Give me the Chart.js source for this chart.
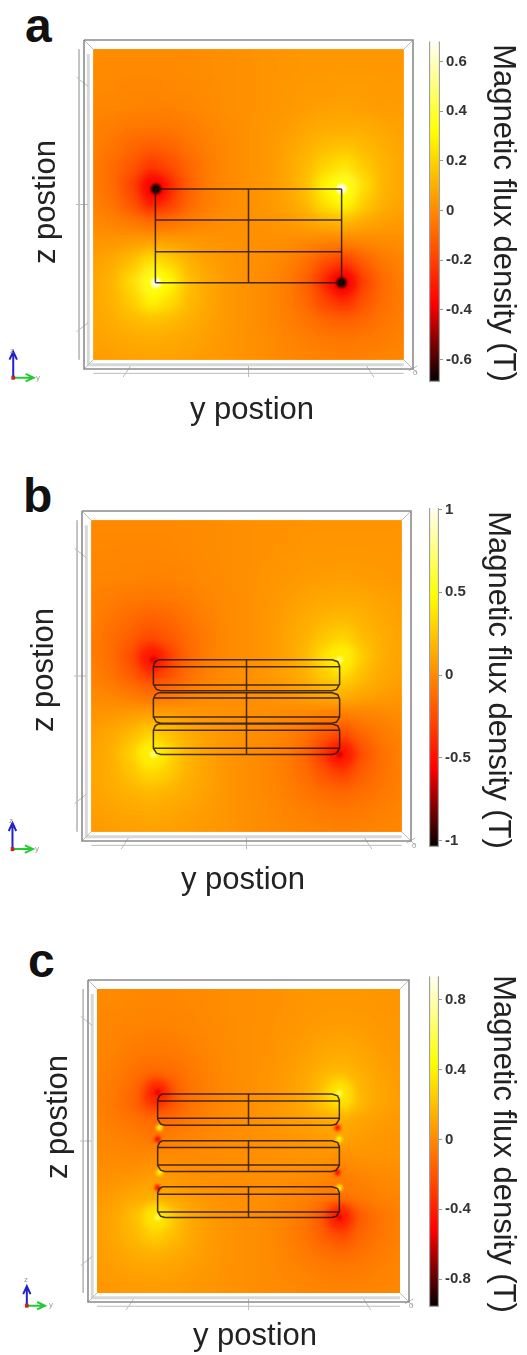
<!DOCTYPE html>
<html>
<head>
<meta charset="utf-8">
<script src="https://cdn.jsdelivr.net/npm/chart.js@4"></script>
<style>
  body { margin: 0; background: #fff; width: 527px; height: 1355px; position: relative; overflow: hidden; }
  canvas { position: absolute; }
  .letter { position: absolute; font: bold 48px/48px "Liberation Sans", sans-serif; color: #111; }
  .tiny { position: absolute; font: 8px/8px "Liberation Sans", sans-serif; color: #999; }
</style>
</head>
<body>
<div class="letter" style="left:25px;top:2px">a</div>
<div class="letter" style="left:23px;top:472px">b</div>
<div class="letter" style="left:28px;top:937px">c</div>
<script>
// grid positions of the field samples
const gridY = [-2.5, -2.19, -1.88, -1.56, -1.25, -0.94, -0.63, -0.31, 0, 0.31, 0.63, 0.94, 1.25, 1.56, 1.88, 2.19, 2.5];
const gridZ = [2.5, 2.19, 1.88, 1.56, 1.25, 0.94, 0.63, 0.31, 0, -0.31, -0.63, -0.94, -1.25, -1.56, -1.88, -2.19, -2.5];

// field, in mT, one row per gridZ
const fieldA = [
  [5, 5, 5, 5, 5, 5, 10, 13, 20, 27, 30, 35, 35, 35, 35, 35, 35],
  [0, 0, 0, 0, 0, 5, 10, 13, 20, 27, 30, 35, 40, 40, 40, 40, 40],
  [-3, -3, -10, -10, -3, -3, 5, 13, 20, 27, 35, 43, 43, 50, 50, 43, 43],
  [-10, -10, -15, -20, -20, -10, 0, 13, 20, 27, 40, 50, 60, 60, 55, 50, 50],
  [-20, -35, -50, -50, -50, -35, -10, 5, 20, 35, 50, 75, 90, 90, 90, 75, 60],
  [-25, -55, -90, -115, -100, -60, -25, 0, 20, 40, 65, 100, 135, 150, 125, 95, 65],
  [-35, -80, -135, -220, -165, -90, -40, 0, 20, 40, 80, 125, 200, 250, 170, 115, 75],
  [-35, -80, -190, -390, -260, -110, -35, 0, 20, 40, 75, 145, 300, 430, 230, 115, 75],
  [-25, -60, -145, -290, -210, -90, -30, 5, 20, 35, 70, 125, 250, 320, 180, 100, 65],
  [0, -15, -40, -75, -55, -25, 0, 13, 20, 27, 40, 65, 95, 115, 80, 55, 40],
  [30, 40, 55, 70, 65, 47, 32, 25, 20, 15, 8, -7, -25, -30, -15, 0, 10],
  [55, 90, 150, 260, 200, 110, 62, 32, 20, 8, -22, -70, -165, -225, -115, -50, -15],
  [70, 115, 230, 430, 310, 145, 78, 40, 20, 0, -38, -110, -270, -390, -195, -80, -30],
  [75, 110, 180, 300, 230, 125, 77, 40, 20, 0, -37, -90, -195, -260, -145, -75, -35],
  [70, 92, 125, 145, 130, 100, 65, 40, 20, 0, -25, -60, -95, -110, -90, -52, -30],
  [60, 75, 85, 95, 85, 70, 55, 32, 20, 8, -15, -30, -45, -55, -45, -35, -20],
  [50, 55, 62, 67, 62, 55, 45, 32, 20, 8, -5, -15, -22, -27, -22, -15, -10]
];
const fieldB = [
  [0, 0, 0, 0, 0, 5, 10, 15, 20, 25, 30, 35, 40, 40, 40, 40, 40],
  [-5, -5, -5, -5, -5, 0, 10, 15, 20, 30, 35, 45, 45, 45, 45, 45, 45],
  [-10, -10, -15, -15, -10, -5, 5, 15, 20, 35, 45, 55, 55, 60, 60, 55, 50],
  [-15, -20, -25, -30, -30, -15, 0, 15, 20, 40, 55, 70, 80, 85, 75, 65, 55],
  [-30, -50, -70, -75, -70, -50, -15, 5, 20, 45, 70, 100, 120, 125, 120, 100, 80],
  [-35, -80, -120, -160, -140, -85, -35, 0, 20, 50, 85, 130, 170, 190, 160, 125, 90],
  [-50, -110, -170, -260, -200, -120, -60, 0, 20, 50, 105, 155, 240, 300, 200, 145, 105],
  [-50, -110, -240, -480, -320, -145, -50, 0, 20, 50, 100, 180, 360, 500, 270, 150, 105],
  [-35, -85, -180, -300, -240, -115, -40, 5, 20, 45, 95, 150, 270, 340, 210, 125, 90],
  [0, -20, -55, -110, -80, -35, 0, 15, 20, 35, 55, 90, 130, 160, 115, 80, 55],
  [40, 55, 80, 100, 90, 65, 45, 30, 20, 15, 0, -15, -40, -50, -30, -5, 10],
  [80, 125, 190, 300, 230, 140, 85, 40, 20, 5, -30, -90, -190, -260, -140, -70, -25],
  [95, 150, 280, 500, 340, 185, 105, 50, 20, -5, -50, -140, -330, -480, -240, -110, -40],
  [105, 145, 225, 340, 270, 160, 105, 50, 20, -5, -50, -115, -230, -310, -175, -100, -45],
  [95, 130, 165, 190, 170, 130, 90, 50, 20, -5, -35, -80, -120, -140, -115, -70, -40],
  [80, 100, 115, 130, 115, 95, 75, 45, 20, 5, -20, -40, -60, -75, -60, -45, -25],
  [65, 75, 85, 90, 85, 75, 60, 45, 20, 5, -5, -20, -30, -35, -30, -20, -15]
];
const fieldC = [
  [0, 0, -5, -5, -5, 0, 5, 15, 20, 25, 35, 40, 45, 45, 45, 40, 40],
  [-5, -5, -10, -15, -15, -5, 5, 15, 20, 25, 35, 45, 55, 55, 55, 45, 45],
  [-10, -15, -25, -30, -25, -15, 0, 12, 20, 28, 40, 55, 70, 75, 65, 55, 50],
  [-15, -25, -50, -60, -55, -30, -10, 8, 20, 32, 50, 70, 100, 110, 95, 65, 55],
  [-20, -40, -80, -100, -90, -55, -20, 5, 20, 35, 60, 90, 135, 150, 120, 85, 60],
  [-30, -60, -120, -200, -160, -80, -30, 0, 20, 40, 70, 115, 200, 250, 155, 100, 70],
  [-35, -70, -145, -310, -210, -95, -35, 0, 20, 40, 75, 125, 240, 340, 170, 105, 75],
  [-25, -50, -85, -110, -95, -55, -20, 5, 20, 35, 60, 80, 110, 120, 95, 70, 55],
  [-10, -20, -35, -70, -30, -15, 0, 12, 20, 28, 40, 50, 60, 95, 65, 50, 40],
  [5, 0, -5, 20, 10, 5, 10, 15, 20, 25, 30, 35, 30, 5, 30, 35, 35],
  [25, 35, 50, 80, 55, 35, 25, 20, 20, 20, 15, 5, -15, -50, -25, -5, 10],
  [50, 80, 120, 135, 105, 70, 40, 25, 20, 15, -5, -30, -65, -80, -55, -30, -15],
  [70, 110, 200, 360, 240, 120, 65, 35, 20, 5, -25, -75, -190, -340, -170, -85, -35],
  [70, 110, 175, 270, 210, 115, 70, 35, 20, 5, -30, -80, -170, -240, -130, -75, -35],
  [65, 90, 125, 145, 125, 95, 60, 35, 20, 5, -20, -55, -90, -110, -85, -50, -25],
  [55, 70, 85, 95, 85, 65, 50, 30, 20, 10, -10, -25, -45, -55, -45, -30, -15],
  [45, 55, 60, 65, 60, 50, 40, 30, 20, 10, 0, -10, -20, -25, -20, -15, -5]
];

// sharp peaks at the coil corners: [y, z, tesla]
const haloA = [[-1.49, 0.25, -0.36], [1.5, 0.25, 0.31], [-1.49, -1.26, 0.31], [1.5, -1.26, -0.36]];
const coreA = [[-1.49, 0.25, -0.69], [1.5, 0.25, 0.69], [-1.49, -1.26, 0.69], [1.5, -1.26, -0.69]];
const haloB = [[-1.5, 0.26, -0.46], [1.5, 0.26, 0.4], [-1.5, -1.26, 0.4], [1.5, -1.26, -0.46]];
const coreB = [[-1.5, 0.26, -0.62], [1.5, 0.26, 0.72], [-1.5, -1.26, 0.72], [1.5, -1.26, -0.62]];
const haloC = [[-1.5, 0.8, -0.4], [1.5, 0.8, 0.34], [-1.5, -1.26, 0.34], [1.5, -1.26, -0.4]];
const coreC = [[-1.5, 0.8, -0.55], [1.5, 0.78, 0.6], [-1.5, -1.26, 0.6], [1.5, -1.26, -0.55],
  [-1.47, 0.22, 0.5], [1.47, 0.22, -0.5], [-1.5, 0.03, -0.5], [1.5, 0.03, 0.45],
  [-1.47, -0.52, 0.45], [1.47, -0.52, -0.5], [-1.5, -0.77, -0.5], [1.5, -0.77, 0.45]];

// coil layers: [top, inner top, inner bottom, bottom]
const layersB = [[0.26, 0.15, -0.145, -0.235], [-0.27, -0.355, -0.66, -0.76], [-0.77, -0.87, -1.16, -1.26]];
const layersC = [[0.775, 0.66, 0.375, 0.26], [0.005, -0.105, -0.396, -0.5], [-0.754, -0.875, -1.167, -1.26]];
const wiresA = [
  [[-1.5, 0.25], [1.5, 0.25]], [[-1.5, -0.25], [1.5, -0.25]], [[-1.5, -0.76], [1.5, -0.76]],
  [[-1.5, -1.26], [1.5, -1.26]], [[-1.5, 0.25], [-1.5, -1.26]], [[0, 0.25], [0, -1.26]], [[1.5, 0.25], [1.5, -1.26]]
];

// colour bars
const rangeA = 0.69, rangeB = 1.04, rangeC = 0.96;
const ticksA = [0.6, 0.4, 0.2, 0, -0.2, -0.4, -0.6];
const ticksB = [1, 0.5, 0, -0.5, -1];
const ticksC = [0.8, 0.4, 0, -0.4, -0.8];

// box around the field
const frameDark = [[[-2.65, 2.65], [2.65, 2.65], [2.65, -2.65], [-2.65, -2.65], [-2.65, 2.65]]];
const frameLight = [
  [[-2.65, 2.65], [-2.5, 2.5]], [[2.65, 2.65], [2.5, 2.5]], [[-2.65, -2.65], [-2.5, -2.5]], [[2.5, -2.5], [2.72, -2.72]],
  [[2.58, -2.68], [2.72, -2.6]],
  [[-2.73, 2.5], [-2.73, -2.5]], [[-2.5, -2.72], [2.5, -2.72]],
  [[-2.77, 2.05], [-2.58, 1.9]], [[-2.78, 0], [-2.58, 0]], [[-2.77, -2.05], [-2.58, -1.9]],
  [[-2.02, -2.78], [-1.9, -2.6]], [[0, -2.78], [0, -2.6]], [[2.02, -2.78], [1.9, -2.6]]
];
const frameWide = [[[-2.58, 2.42], [-2.58, -2.58], [2.5, -2.58]]];

const colorStops = [[0, "#000000"], [0.23, "#ff0000"], [0.73, "#ffff00"], [1, "#ffffff"]];

const panels = [
  { field: fieldA, halo: haloA, core: coreA, wires: wiresA, range: rangeA, ticks: ticksA, coreSize: 5,
    top: 0, height: 440, left: 84, right: 114, up: 40, down: 71,
    zPad: 28, yPad: 11, yShift: 3.5, zShift: -2.5,
    triad: [-3.79, -2.79], triadTop: -2.37, triadEnd: -3.46,
    bar: { up: 39, down: 58, width: 87, pad: 6, shift: 2.5 } },
  { field: fieldB, halo: haloB, core: coreB, wires: outline(layersB), range: rangeB, ticks: ticksB, coreSize: 3.5,
    top: 470, height: 440, left: 82, right: 116, up: 41, down: 69,
    zPad: 26, yPad: 11, yShift: -3.5, zShift: -6,
    triad: [-3.77, -2.78], triadTop: -2.36, triadEnd: -3.44,
    bar: { up: 33, down: 63, width: 88, pad: 11, shift: 5 } },
  { field: fieldC, halo: haloC, core: coreC, wires: outline(layersC), range: rangeC, ticks: ticksC, coreSize: 3,
    top: 930, height: 425, left: 88, right: 118, up: 50, down: 53,
    zPad: 40, yPad: 0, yShift: 6.5, zShift: -24,
    triad: [-3.66, -2.71], triadTop: -2.39, triadEnd: -3.36,
    bar: { up: 42, down: 48, width: 88, pad: 6, shift: 4.5 } }
];

// rounded coil blocks from the layer heights
function outline(layers) {
  const wires = [];
  layers.forEach(([t, ti, bi, b]) => {
    wires.push([[-1.42, t], [1.38, t], [1.47, t - 0.03], [1.5, t - 0.1], [1.5, b + 0.1], [1.45, b + 0.02], [1.38, b],
      [-1.38, b], [-1.45, b + 0.02], [-1.5, b + 0.1], [-1.5, t - 0.1], [-1.47, t - 0.03], [-1.42, t]]);
    wires.push([[-1.5, ti], [1.5, ti]]);
    wires.push([[-1.5, bi], [1.5, bi]]);
    wires.push([[0, t], [0, b]]);
  });
  return wires;
}

function flatten(paths) {
  const pts = [];
  paths.forEach(path => {
    path.forEach(p => pts.push({ x: p[0], y: p[1] }));
    pts.push({ x: null, y: null });
  });
  return pts;
}

function mix(c1, c2, f) {
  const a = parseInt(c1.slice(1), 16), b = parseInt(c2.slice(1), 16);
  const ch = s => Math.round(((a >> s) & 255) * (1 - f) + ((b >> s) & 255) * f);
  return `rgb(${ch(16)},${ch(8)},${ch(0)})`;
}

function heatColor(v, range) {
  const t = Math.max(0, Math.min(1, (v + range) / (2 * range)));
  for (let i = 1; i < colorStops.length; i++) {
    if (t <= colorStops[i][0]) {
      const f = (t - colorStops[i - 1][0]) / (colorStops[i][0] - colorStops[i - 1][0]);
      return mix(colorStops[i - 1][1], colorStops[i][1], f);
    }
  }
  return "#ffffff";
}

// smooths the cells of the field and trims them to the field square
const fieldPlugin = {
  id: "fieldPlugin",
  beforeDatasetDraw(chart, args) {
    const ds = chart.data.datasets[args.index];
    if (ds.blurPx) {
      chart.ctx.save();
      chart.ctx.filter = `blur(${ds.blurPx}px)`;
    }
  },
  afterDatasetDraw(chart, args) {
    const ds = chart.data.datasets[args.index];
    const ctx = chart.ctx;
    if (ds.blurPx) ctx.restore();
    if (!ds.isField) return;
    const sx = chart.scales.x, sy = chart.scales.y;
    const l = sx.getPixelForValue(-2.5), r = sx.getPixelForValue(2.5);
    const t = sy.getPixelForValue(2.5), b = sy.getPixelForValue(-2.5);
    const copy = document.createElement("canvas");
    copy.width = chart.canvas.width;
    copy.height = chart.canvas.height;
    copy.getContext("2d").drawImage(chart.canvas, 0, 0);
    ctx.clearRect(l - 14, t - 14, r - l + 28, b - t + 28);
    ctx.save();
    ctx.beginPath();
    ctx.rect(l, t, r - l, b - t);
    ctx.clip();
    ctx.drawImage(copy, 0, 0);
    ctx.filter = "blur(7px)";
    ctx.drawImage(copy, 0, 0);
    ctx.restore();
  },
  // the axis titles sit a little off centre in the picture
  afterLayout(chart, args, opts) {
    if (opts.xShift) {
      chart.scales.x.left += opts.xShift;
      chart.scales.x.right += opts.xShift;
    }
    if (opts.yShift) {
      chart.scales.y.top += opts.yShift;
      chart.scales.y.bottom += opts.yShift;
    }
  }
};
Chart.register(fieldPlugin);

function spotData(list) {
  return list.map(s => ({ x: s[0], y: s[1] }));
}

function addCanvas(left, top, width, height) {
  const c = document.createElement("canvas");
  c.width = width;
  c.height = height;
  c.style.left = left + "px";
  c.style.top = top + "px";
  c.style.width = width + "px";
  c.style.height = height + "px";
  document.body.appendChild(c);
  return c;
}

function addTiny(text, left, top) {
  const d = document.createElement("div");
  d.className = "tiny";
  d.textContent = text;
  d.style.left = left + "px";
  d.style.top = top + "px";
  document.body.appendChild(d);
}

function lineSet(paths, color, width, order, extra) {
  return Object.assign({
    data: flatten(paths), showLine: true, pointRadius: 0, borderColor: color, borderWidth: width,
    order: order, clip: false, spanGaps: false, tension: 0
  }, extra || {});
}

function drawPanel(p) {
  const cells = [], cellColors = [];
  gridZ.forEach((z, j) => gridY.forEach((y, i) => {
    cells.push({ x: y, y: z });
    cellColors.push(heatColor(p.field[j][i] / 1000, p.range));
  }));
  const [ox, oz] = p.triad;
  const top = p.triadTop, end = p.triadEnd;

  new Chart(addCanvas(0, p.top, 527, p.height), {
    type: "scatter",
    data: {
      datasets: [
        { isField: true, data: cells, pointStyle: "rect", pointRadius: 14.5, pointBorderWidth: 0,
          pointBackgroundColor: cellColors, order: 9, clip: false },
        { data: spotData(p.halo), pointRadius: 12, pointBorderWidth: 0, blurPx: 5, order: 8, clip: false,
          pointBackgroundColor: p.halo.map(s => heatColor(s[2], p.range)) },
        { data: spotData(p.core), pointRadius: p.coreSize, pointBorderWidth: 0, blurPx: 1.5, order: 7, clip: false,
          pointBackgroundColor: p.core.map(s => heatColor(s[2], p.range)) },
        lineSet(frameWide, "#d8d8d8", 3, 6),
        lineSet(frameLight, "#bcbcbc", 1, 5),
        lineSet(frameDark, "#8c8c8c", 1.6, 4),
        lineSet(p.wires, "rgba(35,22,12,0.85)", 1.5, 3, { blurPx: 0.4 }),
        lineSet([[[ox, oz], [ox, top]], [[ox - 0.06, top - 0.13], [ox, top], [ox + 0.06, top - 0.13]]], "#2222cc", 2, 2),
        lineSet([[[ox, oz], [end, oz]], [[end - 0.13, oz + 0.06], [end, oz], [end - 0.13, oz - 0.06]]], "#22cc33", 2, 2),
        lineSet([[[ox - 0.03, oz], [ox + 0.03, oz]]], "#cc2222", 4, 1)
      ]
    },
    options: {
      responsive: false,
      animation: false,
      events: [],
      layout: { padding: { left: 0, right: p.right, top: p.up, bottom: 0 } },
      plugins: {
        legend: { display: false },
        tooltip: { enabled: false },
        fieldPlugin: { xShift: p.yShift, yShift: p.zShift }
      },
      scales: {
        x: {
          type: "linear", min: -2.65, max: 2.65,
          ticks: { display: false }, grid: { display: false }, border: { display: false },
          title: { display: true, text: "y postion", color: "#222",
            font: { family: "Liberation Sans", size: 31 }, padding: { top: 0, bottom: p.yPad } },
          afterFit(scale) { scale.height = p.down; }
        },
        y: {
          type: "linear", min: -2.65, max: 2.65,
          ticks: { display: false }, grid: { display: false }, border: { display: false },
          title: { display: true, text: "z postion", color: "#222",
            font: { family: "Liberation Sans", size: 31 }, padding: { top: p.zPad, bottom: 0 } },
          afterFit(scale) { scale.width = p.left; }
        }
      }
    }
  });

  new Chart(addCanvas(400, p.top, 127, p.height), {
    type: "bar",
    data: {
      labels: ["B"],
      datasets: [{
        data: [[-p.range, p.range]],
        barPercentage: 1, categoryPercentage: 1,
        borderColor: "#a0a0a0", borderWidth: 1.5, borderSkipped: false,
        backgroundColor(ctx) {
          const area = ctx.chart.chartArea;
          if (!area) return "#000";
          const g = ctx.chart.ctx.createLinearGradient(0, area.bottom, 0, area.top);
          colorStops.forEach(s => g.addColorStop(s[0], s[1]));
          return g;
        }
      }]
    },
    options: {
      responsive: false,
      animation: false,
      events: [],
      layout: { padding: { left: 29, right: 0, top: p.bar.up, bottom: p.bar.down } },
      plugins: {
        legend: { display: false },
        tooltip: { enabled: false },
        fieldPlugin: { yShift: p.bar.shift }
      },
      scales: {
        x: { display: false },
        y: {
          position: "right", min: -p.range, max: p.range,
          afterBuildTicks(scale) { scale.ticks = p.ticks.map(v => ({ value: v })); },
          ticks: { autoSkip: false, color: "#333", padding: 3, callback: v => String(v),
            font: { family: "Liberation Sans", size: 15, weight: "bold" } },
          grid: { drawOnChartArea: false, tickLength: 3, tickColor: "#999" },
          border: { display: false },
          title: { display: true, text: "Magnetic flux density (T)", color: "#222",
            font: { family: "Liberation Sans", size: 31 }, padding: { top: p.bar.pad, bottom: 0 } },
          afterFit(scale) { scale.width = p.bar.width; }
        }
      }
    }
  });
}

panels.forEach(drawPanel);

addTiny("z", 10, 347); addTiny("y", 36, 374); addTiny("0", 413, 369);
addTiny("z", 9, 817); addTiny("y", 35, 845); addTiny("0", 412, 842);
addTiny("z", 24, 1276); addTiny("y", 49, 1301); addTiny("0", 409, 1302);
</script>
</body>
</html>
